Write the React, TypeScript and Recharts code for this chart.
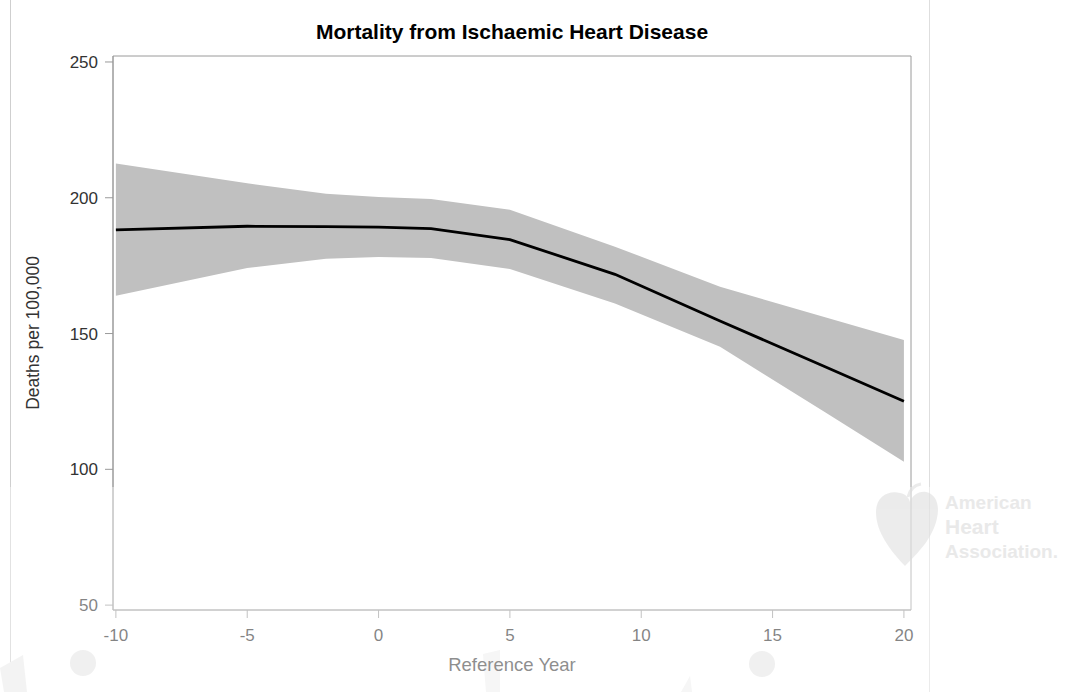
import React from "react";
import {
  ComposedChart,
  Area,
  Line,
  XAxis,
  YAxis,
  ReferenceArea,
  Label,
} from "recharts";

// fitted curve with its confidence band
const years = [-10, -5, -2, 0, 2, 5, 9, 13, 17, 20];
const fitted = [188.2, 189.5, 189.4, 189.2, 188.6, 184.6, 171.8, 154.6, 137.8, 125.1];
const upperCl = [212.6, 205.3, 201.5, 200.3, 199.5, 195.6, 182.0, 167.2, 156.0, 147.6];
const lowerCl = [163.9, 174.1, 177.5, 178.2, 177.8, 173.8, 161.1, 145.1, 121.0, 102.8];

const xTicks = [-10, -5, 0, 5, 10, 15, 20];
const yTicks = [50, 100, 150, 200, 250];

const X_DOMAIN: [number, number] = [-10.11, 20.27];
const Y_DOMAIN: [number, number] = [48.2, 252.2];

const rows = years.map((year, i) => ({
  year,
  fit: fitted[i],
  band: [lowerCl[i], upperCl[i]],
}));

const FONT = "'Liberation Sans', Arial, sans-serif";
const W = 1078;
const H = 692;

const App: React.FC = () => {
  return (
    <div
      style={{
        position: "absolute",
        left: 0,
        top: 0,
        width: W,
        height: H,
        background: "#fff",
        fontFamily: FONT,
        overflow: "hidden",
      }}
    >
      {/* outer border of the graph image */}
      <div style={{ position: "absolute", left: 10, top: 0, width: 1, height: H, background: "#cfcfcf" }} />
      <div style={{ position: "absolute", left: 929, top: 0, width: 1, height: H, background: "#dedede" }} />

      {/* background marks of the watermark */}
      <svg
        width={W}
        height={H}
        style={{ position: "absolute", left: 0, top: 0, pointerEvents: "none" }}
      >
        <circle cx={83} cy={663} r={13} fill="#e6e6e6" />
        <circle cx={762} cy={664} r={13} fill="#e6e6e6" />
        <polygon points="0,668 23,655 27,692 4,692" fill="#ececec" />
        <polygon points="483,654 500,650 500,692 486,692" fill="#f0f0f0" />
        <polygon points="681,692 690,676 692,692" fill="#f0f0f0" />
      </svg>

      <div
        style={{
          position: "absolute",
          left: 0,
          top: 21,
          width: 1024,
          textAlign: "center",
          fontSize: 21,
          fontWeight: "bold",
          color: "#000",
          lineHeight: "21px",
        }}
      >
        Mortality from Ischaemic Heart Disease
      </div>

      <div style={{ position: "absolute", left: 0, top: 0 }}>
        <ComposedChart
          width={W}
          height={H}
          data={rows}
          margin={{ top: 56, right: 167, bottom: 0, left: 0 }}
        >
          <XAxis
            dataKey="year"
            type="number"
            domain={X_DOMAIN}
            ticks={xTicks}
            allowDataOverflow
            height={82}
            tickSize={8}
            tickMargin={11}
            axisLine={{ stroke: "#9a9a9a" }}
            tickLine={{ stroke: "#9a9a9a" }}
            tick={{ fill: "#333", fontSize: 17, fontFamily: FONT }}
          >
            <Label
              value="Reference Year"
              position="insideBottom"
              offset={21}
              style={{ fill: "#444", fontSize: 18.5, fontFamily: FONT }}
            />
          </XAxis>
          <YAxis
            type="number"
            domain={Y_DOMAIN}
            ticks={yTicks}
            allowDataOverflow
            width={113}
            tickSize={8}
            tickMargin={7}
            axisLine={{ stroke: "#9a9a9a" }}
            tickLine={{ stroke: "#9a9a9a" }}
            tick={{ fill: "#333", fontSize: 17, fontFamily: FONT }}
          >
            <Label
              value="Deaths per 100,000"
              angle={-90}
              position="insideLeft"
              offset={33}
              style={{ textAnchor: "middle", fill: "#333", fontSize: 17.5, fontFamily: FONT }}
            />
          </YAxis>
          <ReferenceArea
            x1={X_DOMAIN[0]}
            x2={X_DOMAIN[1]}
            y1={Y_DOMAIN[0]}
            y2={Y_DOMAIN[1]}
            fill="none"
            stroke="#9a9a9a"
            ifOverflow="visible"
          />
          <Area
            dataKey="band"
            type="linear"
            stroke="none"
            fill="#c0c0c0"
            fillOpacity={1}
            isAnimationActive={false}
          />
          <Line
            dataKey="fit"
            type="linear"
            stroke="#000"
            strokeWidth={2.8}
            dot={false}
            isAnimationActive={false}
          />
        </ComposedChart>
      </div>

      {/* faded lower strip and logo */}
      <div
        style={{
          position: "absolute",
          left: 0,
          top: 487,
          width: W,
          height: H - 487,
          background: "rgba(255,255,255,0.4)",
        }}
      />
      <svg
        width={W}
        height={H}
        style={{ position: "absolute", left: 0, top: 0, pointerEvents: "none" }}
      >
        <g opacity={0.55}>
          <path
            d="M905,566 C890,550 876,532 876,512 C876,497 888,490 900,493 C906,494 909,498 910,502 C912,496 918,491 926,492 C936,494 940,505 937,518 C933,538 918,553 905,566 Z"
            fill="#dcdcdc"
          />
          <path d="M908,497 C910,489 915,485 921,484" stroke="#dcdcdc" strokeWidth={3} fill="none" />
        </g>
        <g fill="#e9e9e9" fontFamily={FONT} fontWeight="bold">
          <text x={945} y={509} fontSize={19}>American</text>
          <text x={945} y={534} fontSize={21}>Heart</text>
          <text x={945} y={558} fontSize={19}>Association.</text>
        </g>
      </svg>
    </div>
  );
};

export default App;
